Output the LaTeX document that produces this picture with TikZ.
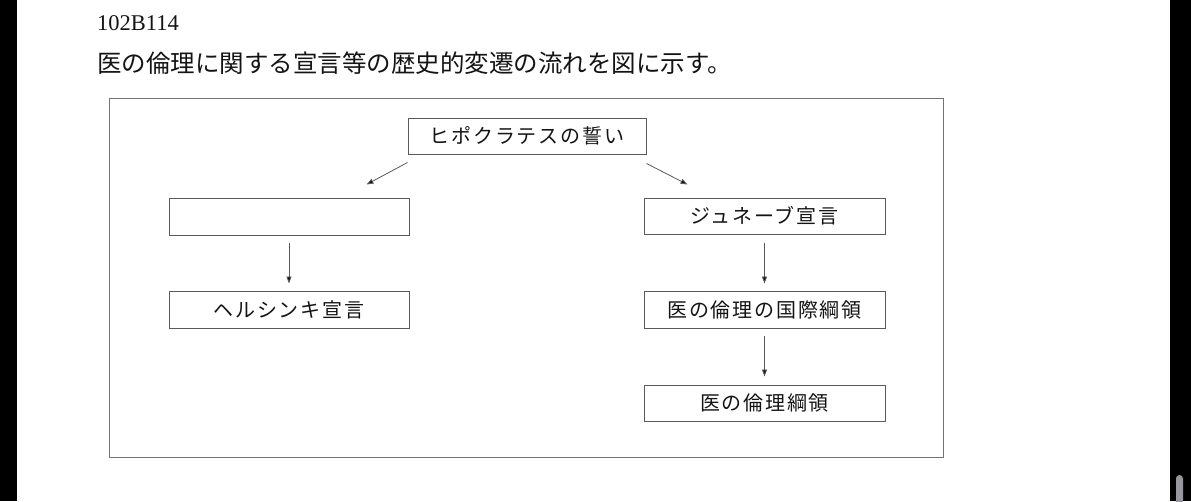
\documentclass[tikz,border=0pt]{standalone}
\usepackage{fontspec}
\setmainfont{Liberation Serif}
\newfontfamily\jpfont{Noto Sans CJK JP}
\newfontfamily\jpbox[LetterSpace=9]{Noto Sans CJK JP}
\usepackage{tikz}
\usetikzlibrary{arrows.meta}

\definecolor{linegray}{RGB}{90,90,90}
\definecolor{framegray}{RGB}{115,115,115}
\definecolor{inkgray}{RGB}{20,20,20}
\definecolor{bargray}{RGB}{150,150,156}

\begin{document}
\begin{tikzpicture}[x=1pt, y=-1pt,
  box/.style={draw=linegray, line width=1pt, minimum height=36pt, inner sep=0pt,
    text=inkgray, font=\jpbox\fontsize{20}{20}\selectfont},
  arr/.style={draw=linegray, line width=0.8pt, -{Triangle[length=7pt, width=5pt, fill=inkgray]}}]

\useasboundingbox (0,0) rectangle (1191,501);
\clip (0,0) rectangle (1191,501);

% page edges

\fill[black] (0,0) rectangle (17,501);
\fill[black] (1170,0) rectangle (1191,501);
\fill[bargray, rounded corners=3.5pt] (1176,475) rectangle (1183,512);

% heading

\node[anchor=base west, inner sep=0pt, text=inkgray, font=\fontsize{22.5}{22.5}\selectfont] (qid) at (97,30) {102B114};
\node[anchor=west, inner sep=0pt, text=inkgray, font=\jpfont\fontsize{24.5}{24.5}\selectfont] (title) at (97,63) {医の倫理に関する宣言等の歴史的変遷の流れを図に示す。};

% outer frame

\draw[framegray, line width=1pt] (109,98) rectangle (943,457);

% top box
\node[box, minimum width=238pt] (hippo) at (527,136) {ヒポクラテスの誓い};

% left column
\node[box, minimum width=240pt, minimum height=37pt] (blank) at (289,216.5) {};
\node[box, minimum width=240pt, minimum height=37pt] (helsinki) at (289,309.5) {ヘルシンキ宣言};

% right column
\node[box, minimum width=241pt] (geneva) at (764.5,216) {ジュネーブ宣言};
\node[box, minimum width=241pt, minimum height=37pt] (intl) at (764.5,309.5) {医の倫理の国際綱領};
\node[box, minimum width=241pt] (code) at (764.5,403) {医の倫理綱領};

% top -> columns
\draw[arr] ([yshift=-8pt]hippo.south west) -- ([xshift=-43pt, yshift=13pt]blank.north east);
\draw[arr] ([yshift=-9pt]hippo.south east) -- ([xshift=44pt, yshift=13pt]geneva.north west);

% left column arrows
\draw[arr] ([yshift=-7pt]blank.south) -- ([yshift=7pt]helsinki.north);

% right column arrows
\draw[arr] ([yshift=-8pt]geneva.south) -- ([yshift=7pt]intl.north);
\draw[arr] ([yshift=-7pt]intl.south) -- ([yshift=8pt]code.north);

\end{tikzpicture}
\end{document}
